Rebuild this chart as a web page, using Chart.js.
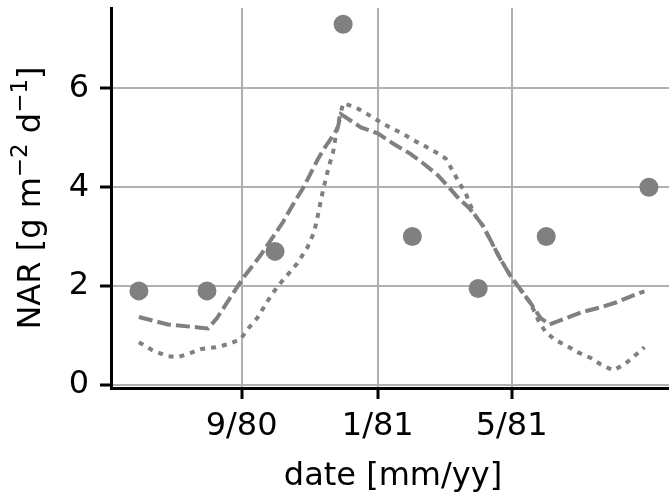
<!DOCTYPE html>
<html>
<head>
<meta charset="utf-8">
<title>NAR</title>
<script src="https://cdn.jsdelivr.net/npm/chart.js@4/dist/chart.umd.min.js"></script>
<style>
  html, body { margin: 0; padding: 0; background: #fff; }
  #wrap { width: 669px; height: 495px; }
</style>
</head>
<body>
<div id="wrap"><canvas id="c" width="669" height="495"></canvas></div>
<script>
// Observed net assimilation rate samples
const sampleDates = ['1980-06-01', '1980-08-01', '1980-10-01', '1980-12-01',
                     '1981-02-01', '1981-04-01', '1981-06-01', '1981-09-01'];
const observedNAR = [1.9, 1.9, 2.7, 7.3, 3.0, 1.95, 3.0, 4.0];

// Model run A (dashed curve)
const modelADates = [
  '1980-06-01', '1980-06-27', '1980-07-24', '1980-08-02', '1980-08-10', '1980-08-22',
  '1980-09-03', '1980-09-18', '1980-10-08', '1980-10-15', '1980-10-26', '1980-11-01',
  '1980-11-08', '1980-11-13', '1980-11-19', '1980-11-26', '1980-11-29', '1980-12-17',
  '1981-01-01', '1981-01-15', '1981-01-30', '1981-02-11', '1981-02-24', '1981-03-08',
  '1981-03-15', '1981-03-24', '1981-04-05', '1981-04-21', '1981-04-30', '1981-05-18',
  '1981-05-27', '1981-06-04', '1981-06-19', '1981-07-03', '1981-07-20', '1981-08-03',
  '1981-08-18', '1981-08-28'];
const modelAValues = [
  1.37, 1.22, 1.16, 1.14, 1.35, 1.77,
  2.18, 2.62, 3.29, 3.57, 3.98, 4.24,
  4.55, 4.75, 4.95, 5.19, 5.48, 5.21,
  5.09, 4.88, 4.68, 4.48, 4.24, 3.94,
  3.76, 3.58, 3.23, 2.54, 2.20, 1.65,
  1.35, 1.22, 1.35, 1.47, 1.57, 1.67,
  1.81, 1.89];

// Model run B (dotted curve)
const modelBDates = [
  '1980-06-01', '1980-06-13', '1980-06-26', '1980-07-06', '1980-07-17', '1980-07-26',
  '1980-08-09', '1980-08-20', '1980-08-31', '1980-09-07', '1980-09-15', '1980-09-21',
  '1980-09-27', '1980-10-04', '1980-10-12', '1980-10-21', '1980-10-30', '1980-11-05',
  '1980-11-08', '1980-11-13', '1980-11-18', '1980-11-22', '1980-11-26', '1980-12-01',
  '1980-12-12', '1980-12-22', '1981-01-01', '1981-01-12', '1981-01-23', '1981-02-02',
  '1981-02-11', '1981-02-22', '1981-03-03', '1981-03-09', '1981-03-15', '1981-03-21',
  '1981-03-28', '1981-04-05', '1981-04-21', '1981-04-30', '1981-05-18', '1981-05-25',
  '1981-05-31', '1981-06-08', '1981-06-20', '1981-06-29', '1981-07-11', '1981-07-20',
  '1981-07-31', '1981-08-10', '1981-08-19', '1981-08-28'];
const modelBValues = [
  0.86, 0.70, 0.58, 0.56, 0.64, 0.72,
  0.76, 0.82, 0.92, 1.14, 1.35, 1.57,
  1.79, 2.01, 2.22, 2.46, 2.78, 3.09,
  3.39, 3.94, 4.40, 4.71, 5.25, 5.70,
  5.62, 5.49, 5.35, 5.21, 5.09, 4.95,
  4.85, 4.71, 4.58, 4.34, 4.09, 3.87,
  3.47, 3.23, 2.54, 2.20, 1.65, 1.30,
  1.08, 0.92, 0.78, 0.66, 0.54, 0.41,
  0.29, 0.41, 0.58, 0.76];

// Axes
const xTickDates = ['1980-09-01', '1981-01-01', '1981-05-01'];
const xTickLabels = ['9/80', '1/81', '5/81'];
const yTickValues = [0, 2, 4, 6];
const xRangeDates = ['1980-05-07', '1981-09-19'];
const yRange = [-0.067, 7.63];
const xTitle = 'date [mm/yy]';
const yTitleParts = [
  { text: 'NAR [g m', sup: false },
  { text: '\u22122', sup: true },
  { text: ' d', sup: false },
  { text: '\u22121', sup: true },
  { text: ']', sup: false }
];

// days since 1980-01-01
const EPOCH = Date.UTC(1980, 0, 1);
function dayNum(s) {
  const [y, m, d] = s.split('-').map(Number);
  return (Date.UTC(y, m - 1, d) - EPOCH) / 86400000;
}
function toPoints(dates, values) {
  return dates.map((d, i) => ({ x: dayNum(d), y: values[i] }));
}

const GRAY = '#808080';
const GRID = '#b0b0b0';
const FONT = '"DejaVu Sans", "Liberation Sans", sans-serif';
const TICK_SIZE = 32;
const TITLE_SIZE = 32;
const SUP_SIZE = 23;

const xTickDays = xTickDates.map(dayNum);

function noEdgePadding(scale) {
  scale.paddingTop = 0;
  scale.paddingBottom = 0;
  scale.paddingLeft = 0;
  scale.paddingRight = 0;
}

const axisTitles = {
  id: 'axisTitles',
  afterDraw(chart) {
    const { ctx, chartArea } = chart;
    ctx.save();
    ctx.fillStyle = '#000';
    ctx.textBaseline = 'alphabetic';

    // x title
    ctx.font = TITLE_SIZE + 'px ' + FONT;
    ctx.textAlign = 'center';
    ctx.fillText(xTitle, (chartArea.left + chartArea.right) / 2 + 3, 485);

    // y title, rotated, with raised exponents
    ctx.textAlign = 'left';
    let total = 0;
    const widths = yTitleParts.map(p => {
      ctx.font = (p.sup ? SUP_SIZE : TITLE_SIZE) + 'px ' + FONT;
      const w = ctx.measureText(p.text).width;
      total += w;
      return w;
    });
    ctx.translate(40, (chartArea.top + chartArea.bottom) / 2);
    ctx.rotate(-Math.PI / 2);
    let x = -total / 2;
    yTitleParts.forEach((p, i) => {
      ctx.font = (p.sup ? SUP_SIZE : TITLE_SIZE) + 'px ' + FONT;
      ctx.fillText(p.text, x, p.sup ? -13 : 0);
      x += widths[i];
    });
    ctx.restore();
  }
};

new Chart(document.getElementById('c'), {
  type: 'scatter',
  data: {
    datasets: [
      {
        label: 'observed',
        data: toPoints(sampleDates, observedNAR),
        backgroundColor: GRAY,
        borderWidth: 0,
        pointRadius: 9.5,
        pointHoverRadius: 9.5,
        showLine: false,
        order: 3
      },
      {
        label: 'model A',
        type: 'line',
        data: toPoints(modelADates, modelAValues),
        borderColor: GRAY,
        borderWidth: 4,
        borderDash: [14, 5],
        pointRadius: 0,
        fill: false,
        tension: 0,
        order: 1
      },
      {
        label: 'model B',
        type: 'line',
        data: toPoints(modelBDates, modelBValues),
        borderColor: GRAY,
        borderWidth: 4,
        borderDash: [5, 6],
        pointRadius: 0,
        fill: false,
        tension: 0,
        order: 2
      }
    ]
  },
  options: {
    responsive: false,
    animation: false,
    events: [],
    layout: { autoPadding: false, padding: { top: 8, right: 0, bottom: 0, left: 0 } },
    plugins: {
      legend: { display: false },
      tooltip: { enabled: false },
      title: { display: false }
    },
    scales: {
      x: {
        type: 'linear',
        min: dayNum(xRangeDates[0]),
        max: dayNum(xRangeDates[1]),
        afterFit(scale) { scale.height = 107; noEdgePadding(scale); },
        afterBuildTicks(scale) { scale.ticks = xTickDays.map(v => ({ value: v })); },
        ticks: {
          autoSkip: false,
          maxRotation: 0,
          padding: 8,
          color: '#000',
          font: { family: FONT, size: TICK_SIZE },
          callback: (v, i) => xTickLabels[i]
        },
        grid: { color: GRID, lineWidth: 2, tickColor: '#000', tickWidth: 3, tickLength: 11 },
        border: { color: '#000', width: 3 }
      },
      y: {
        type: 'linear',
        min: yRange[0],
        max: yRange[1],
        afterFit(scale) { scale.width = 111; noEdgePadding(scale); },
        afterBuildTicks(scale) { scale.ticks = yTickValues.map(v => ({ value: v })); },
        ticks: {
          padding: 11,
          color: '#000',
          font: { family: FONT, size: TICK_SIZE },
          callback: (v) => String(v)
        },
        grid: { color: GRID, lineWidth: 2, tickColor: '#000', tickWidth: 3, tickLength: 11 },
        border: { color: '#000', width: 3 }
      }
    }
  },
  plugins: [axisTitles]
});
</script>
</body>
</html>
